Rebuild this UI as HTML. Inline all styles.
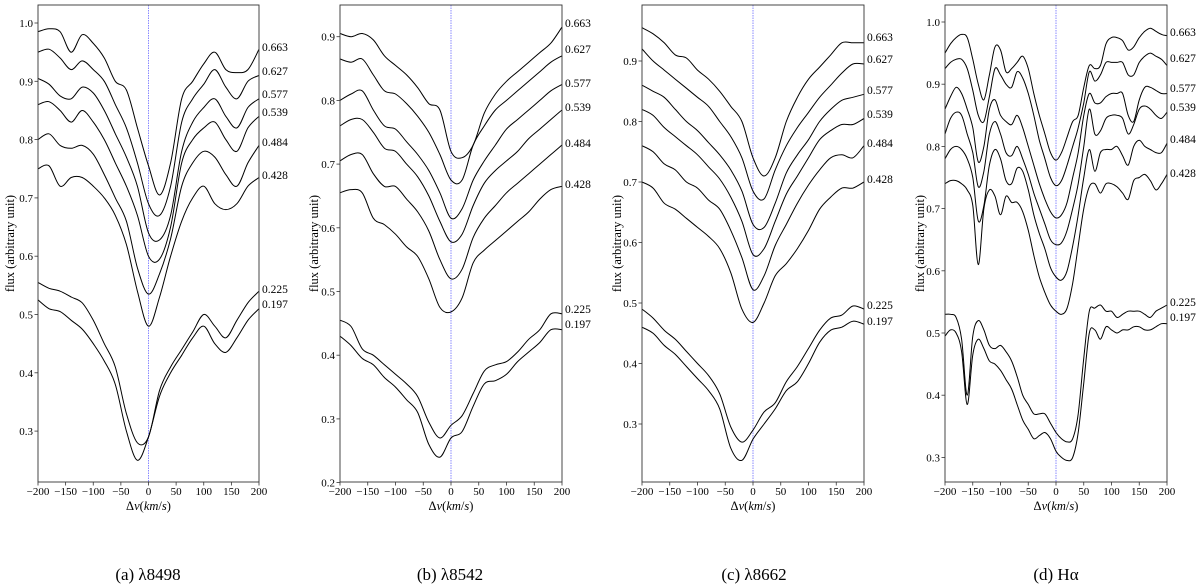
<!DOCTYPE html>
<html><head><meta charset="utf-8">
<style>
html,body{margin:0;padding:0;background:#fff;}
svg{display:block;}
svg text{font-family:"Liberation Serif","DejaVu Serif",serif;}
</style></head>
<body>
<svg id="fig" width="1200" height="587" viewBox="0 0 1200 587" xmlns="http://www.w3.org/2000/svg" font-family="Liberation Serif, DejaVu Serif, serif"></svg>
<script>
const phases = ["0.663","0.627","0.577","0.539","0.484","0.428","0.225","0.197"];
const xTicks = [-200,-150,-100,-50,0,50,100,150,200];
const vGrid20 = [-200,-180,-160,-140,-120,-100,-80,-60,-40,-20,0,20,40,60,80,100,120,140,160,180,200];
const vGrid10 = [-200,-190,-180,-170,-160,-150,-140,-130,-120,-110,-100,-90,-80,-70,-60,-50,-40,-30,-20,-10,0,10,20,30,40,50,60,70,80,90,100,110,120,130,140,150,160,170,180,190,200];

const fluxA = [
 [.985,.99,.985,.95,.98,.965,.94,.90,.885,.82,.755,.705,.76,.87,.90,.93,.95,.92,.915,.92,.955],
 [.95,.955,.94,.92,.935,.92,.90,.86,.82,.76,.69,.67,.72,.83,.87,.895,.92,.89,.87,.90,.91],
 [.905,.895,.875,.87,.89,.88,.85,.81,.77,.72,.64,.628,.67,.78,.83,.855,.87,.84,.82,.855,.87],
 [.86,.865,.85,.83,.85,.83,.80,.76,.72,.67,.60,.595,.65,.76,.80,.82,.83,.80,.78,.82,.84],
 [.80,.81,.79,.785,.79,.775,.74,.70,.66,.58,.535,.57,.63,.72,.76,.78,.77,.74,.72,.76,.79],
 [.75,.755,.72,.735,.735,.72,.70,.67,.62,.54,.48,.53,.60,.66,.70,.72,.69,.68,.69,.72,.735],
 [.555,.545,.54,.53,.52,.49,.45,.41,.33,.28,.29,.37,.41,.44,.47,.50,.48,.46,.49,.52,.54],
 [.525,.51,.505,.49,.475,.45,.42,.38,.30,.25,.29,.36,.40,.43,.46,.48,.45,.435,.46,.49,.51]
];
const fluxB = [
 [.905,.90,.905,.895,.87,.855,.84,.82,.795,.785,.72,.71,.73,.78,.81,.83,.845,.86,.875,.89,.915],
 [.865,.86,.865,.84,.815,.81,.795,.775,.75,.715,.675,.675,.73,.76,.785,.80,.815,.83,.845,.86,.87],
 [.80,.81,.815,.785,.76,.755,.735,.715,.69,.655,.615,.63,.675,.705,.73,.755,.77,.785,.80,.815,.825],
 [.76,.77,.77,.75,.725,.72,.70,.68,.65,.61,.578,.59,.635,.67,.69,.705,.72,.74,.755,.77,.785],
 [.705,.715,.715,.685,.665,.665,.645,.625,.595,.55,.52,.535,.585,.615,.635,.655,.67,.685,.70,.715,.73],
 [.655,.66,.655,.615,.605,.59,.57,.555,.52,.475,.468,.49,.545,.565,.58,.595,.61,.625,.645,.66,.665],
 [.455,.445,.41,.40,.385,.37,.355,.335,.295,.27,.29,.305,.34,.375,.385,.39,.405,.425,.44,.465,.465],
 [.43,.415,.395,.385,.365,.35,.33,.31,.26,.24,.27,.28,.32,.355,.36,.37,.39,.405,.42,.44,.44]
];
const fluxC = [
 [.955,.945,.93,.91,.905,.885,.87,.85,.825,.80,.74,.71,.74,.80,.84,.87,.89,.91,.93,.93,.93],
 [.92,.90,.885,.87,.855,.84,.825,.80,.775,.74,.685,.672,.72,.76,.79,.815,.84,.86,.88,.895,.895],
 [.86,.85,.84,.82,.80,.785,.765,.745,.72,.685,.63,.625,.665,.715,.745,.77,.80,.82,.835,.84,.845],
 [.82,.81,.79,.775,.76,.745,.725,.705,.675,.635,.58,.59,.635,.68,.71,.74,.77,.785,.795,.795,.805],
 [.76,.75,.73,.72,.70,.69,.67,.655,.62,.575,.522,.545,.595,.63,.665,.695,.72,.74,.745,.74,.76],
 [.70,.69,.665,.655,.64,.625,.61,.59,.55,.49,.468,.50,.545,.565,.59,.62,.655,.675,.69,.69,.70],
 [.49,.475,.455,.44,.42,.40,.38,.35,.295,.27,.29,.32,.335,.37,.395,.425,.455,.475,.48,.495,.49],
 [.46,.45,.43,.415,.395,.375,.355,.325,.26,.24,.275,.30,.325,.355,.37,.40,.435,.455,.46,.47,.465]
];
const fluxD = [
 [.95,.965,.975,.98,.975,.94,.90,.875,.915,.96,.955,.92,.925,.935,.945,.925,.885,.85,.82,.79,.778,.79,.815,.84,.85,.895,.93,.925,.93,.965,.975,.975,.97,.955,.96,.975,.985,.99,.985,.98,.978],
 [.925,.935,.94,.94,.925,.89,.85,.84,.88,.925,.915,.90,.895,.92,.91,.885,.85,.81,.78,.75,.737,.745,.77,.80,.83,.87,.92,.905,.915,.935,.935,.935,.935,.915,.915,.935,.945,.95,.945,.94,.93],
 [.86,.88,.895,.885,.86,.83,.775,.80,.86,.875,.85,.84,.835,.85,.83,.80,.77,.74,.715,.695,.685,.69,.71,.75,.79,.85,.885,.87,.87,.88,.885,.885,.885,.85,.84,.875,.895,.895,.89,.885,.885],
 [.82,.845,.855,.85,.82,.79,.735,.76,.82,.84,.82,.79,.785,.80,.78,.755,.725,.70,.675,.65,.642,.645,.665,.70,.74,.80,.86,.82,.825,.845,.85,.85,.845,.82,.835,.86,.865,.86,.85,.845,.855],
 [.78,.795,.80,.795,.78,.75,.68,.705,.77,.795,.78,.745,.74,.765,.76,.73,.69,.66,.635,.605,.59,.585,.60,.64,.69,.75,.795,.76,.79,.795,.795,.80,.785,.77,.80,.81,.80,.795,.79,.79,.805],
 [.74,.745,.745,.74,.73,.705,.61,.70,.73,.72,.69,.72,.71,.71,.695,.665,.625,.59,.565,.545,.535,.53,.54,.58,.64,.70,.735,.74,.725,.74,.74,.735,.725,.715,.745,.75,.755,.745,.73,.74,.755],
 [.53,.53,.525,.49,.40,.495,.52,.505,.48,.475,.48,.47,.455,.43,.40,.385,.37,.37,.37,.355,.34,.33,.325,.33,.37,.46,.535,.54,.545,.535,.535,.525,.53,.535,.535,.535,.53,.525,.535,.54,.545],
 [.495,.505,.50,.47,.385,.465,.49,.475,.455,.45,.44,.425,.41,.385,.36,.345,.33,.335,.34,.33,.31,.30,.295,.30,.34,.42,.50,.505,.49,.51,.505,.50,.505,.505,.51,.51,.505,.505,.51,.515,.515]
];
const yTicksA = [0.3,0.4,0.5,0.6,0.7,0.8,0.9,1.0];
const yTicksB = [0.2,0.3,0.4,0.5,0.6,0.7,0.8,0.9];
const yTicksC = [0.3,0.4,0.5,0.6,0.7,0.8,0.9];
const yTicksD = [0.3,0.4,0.5,0.6,0.7,0.8,0.9,1.0];
const captions = ["(a) λ8498","(b) λ8542","(c) λ8662","(d) Hα"];

const panels = [
 {x0:38, x1:259, refF:1.0, refY:23, pxPer:583, grid:vGrid20, flux:fluxA, ticks:yTicksA, labY:[47,71,94,112,142,175,289,304], cap:148, ylab:10},
 {x0:340, x1:562, refF:0.9, refY:36.7, pxPer:637, grid:vGrid20, flux:fluxB, ticks:yTicksB, labY:[23,49,83,107,143,184,309,324], cap:450, ylab:314},
 {x0:642, x1:864, refF:0.9, refY:61, pxPer:605, grid:vGrid20, flux:fluxC, ticks:yTicksC, labY:[37,59,90,114,143,179,305,321], cap:754, ylab:617},
 {x0:945, x1:1167, refF:1.0, refY:22, pxPer:622, grid:vGrid10, flux:fluxD, ticks:yTicksD, labY:[32,58,88,107,139,173,302,317], cap:1056, ylab:920}
];
const plotTop=5, plotBottom=482;
const figEl=document.getElementById('fig');
const NS='http://www.w3.org/2000/svg';
const FONT='Liberation Serif, DejaVu Serif, serif';
function mk(tag, attrs, parent){const e=document.createElementNS(NS,tag);for(const k in attrs)e.setAttribute(k,attrs[k]);if(tag==='text')e.setAttribute('font-family',FONT);(parent||figEl).appendChild(e);return e;}
function smoothPath(P){
  let d='M'+P[0][0].toFixed(1)+','+P[0][1].toFixed(1);
  for(let i=0;i<P.length-1;i++){
    const p0=P[Math.max(0,i-1)],p1=P[i],p2=P[i+1],p3=P[Math.min(P.length-1,i+2)];
    const c1x=p1[0]+(p2[0]-p0[0])/6,c1y=p1[1]+(p2[1]-p0[1])/6;
    const c2x=p2[0]-(p3[0]-p1[0])/6,c2y=p2[1]-(p3[1]-p1[1])/6;
    d+=' C'+c1x.toFixed(1)+','+c1y.toFixed(1)+' '+c2x.toFixed(1)+','+c2y.toFixed(1)+' '+p2[0].toFixed(1)+','+p2[1].toFixed(1);
  }
  return d;
}

panels.forEach((p,pi)=>{
  const g=mk('g',{});
  
  
  const xs=v=>p.x0+(v+200)/400*(p.x1-p.x0);
  const ys=f=>p.refY+(p.refF-f)*p.pxPer;
  const zl=mk('line',{x1:xs(0),x2:xs(0),y1:plotTop,y2:plotBottom,stroke:'#6b6bff','stroke-width':0.8,'stroke-dasharray':'1.5,1'},g);
  
  
  p.flux.forEach((arr,si)=>{
    const P=arr.map((f,i)=>[xs(p.grid[i]),ys(f)]);
    const pl=mk('path',{d:smoothPath(P),fill:'none',stroke:'#000','stroke-width':1,'stroke-linejoin':'round'},g);
    
    
    const t=mk('text',{x:p.x1+3,y:p.labY[si]+4,'font-size':11.5,fill:'#000'},g);
    t.textContent=phases[si];
    
    
  });
  const fr=mk('rect',{x:p.x0,y:plotTop,width:p.x1-p.x0,height:plotBottom-plotTop,fill:'none',stroke:'#333','stroke-width':0.9},g);
  
  
  xTicks.forEach(v=>{
    mk('line',{x1:xs(v),x2:xs(v),y1:plotBottom,y2:plotBottom+3.5,stroke:'#333','stroke-width':0.8},g);
    const t=mk('text',{x:xs(v),y:plotBottom+13,'font-size':11,'text-anchor':'middle',fill:'#000'},g);
    t.textContent=(v<0?'\u2212'+(-v):String(v));
    
    
  });
  p.ticks.forEach(f=>{
    mk('line',{x1:p.x0-3.5,x2:p.x0,y1:ys(f),y2:ys(f),stroke:'#333','stroke-width':0.8},g);
    const t=mk('text',{x:p.x0-5,y:ys(f)+4,'font-size':11,'text-anchor':'end',fill:'#000'},g);
    t.textContent=f.toFixed(1);
    
    
  });
  const xl=mk('text',{x:(p.x0+p.x1)/2,y:plotBottom+28,'font-size':12.5,'text-anchor':'middle',fill:'#000'},g);
  xl.innerHTML='Δ<tspan font-style="italic">v</tspan>(<tspan font-style="italic">km</tspan>/<tspan font-style="italic">s</tspan>)';
  
  
  const yl=mk('text',{x:0,y:0,'font-size':12.5,'text-anchor':'middle',fill:'#000',transform:'translate('+(p.ylab+4)+','+((plotTop+plotBottom)/2)+') rotate(-90)'},g);
  yl.textContent='flux (arbitrary unit)';
  
  
  const cp=mk('text',{x:p.cap,y:580,'font-size':17,'text-anchor':'middle',fill:'#000'},g);
  cp.textContent=captions[pi];
  
  
});
</script>
</body></html>
